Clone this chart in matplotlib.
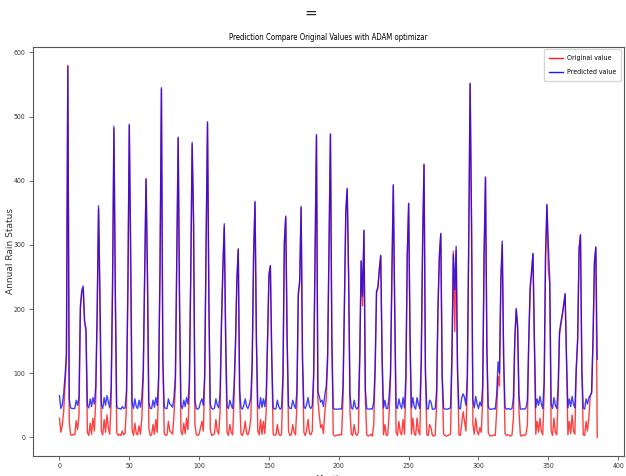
import numpy as np
import matplotlib
matplotlib.use("Agg")
import matplotlib.pyplot as plt
from matplotlib.font_manager import FontProperties

# ---------------- Data (monthly rainfall, actual vs model output) ----------------
original_rows = [
    [30, 8, 18, 40, 80, 125, 580],
    [25, 4, 3, 5, 4, 26, 12, 35, 200, 225, 232],
    [180, 165, 8, 3, 22, 5, 30, 10, 60, 190, 356],
    [197, 10, 4, 28, 8, 35, 15, 5, 55, 230, 481],
    [220, 8, 3, 5, 3, 10, 4, 6, 50, 230, 486],
    [245, 12, 3, 22, 6, 4, 18, 5, 30, 90, 250, 403],
    [250, 15, 3, 4, 20, 5, 28, 8, 80, 260, 543],
    [120, 6, 3, 4, 25, 10, 8, 5, 35, 80, 270, 466],
    [200, 10, 4, 22, 6, 30, 12, 70, 250, 456],
    [335, 20, 4, 3, 5, 15, 25, 10, 90, 300, 490],
    [205, 12, 3, 4, 6, 28, 10, 5, 40, 175, 260, 328],
    [150, 8, 3, 20, 8, 4, 60, 140, 240, 293],
    [60, 5, 3, 10, 25, 6, 4, 12, 30, 110, 280, 366],
    [150, 10, 4, 28, 5, 25, 6, 40, 150, 250, 267],
    [120, 5, 3, 4, 20, 6, 3, 5, 80, 300, 343],
    [150, 10, 3, 4, 20, 8, 4, 50, 220, 240, 358],
    [120, 8, 3, 12, 28, 6, 4, 10, 90, 280, 470],
    [60, 35, 15, 20, 6, 40, 60, 120, 300, 472],
    [150, 5, 2, 3, 4, 3, 5, 4, 60, 200, 350, 387],
    [250, 40, 5, 3, 20, 6, 3, 8, 120, 275, 205, 322],
    [60, 4, 2, 3, 5, 2, 20, 100, 225, 232, 260, 283],
    [120, 4, 20, 3, 4, 35, 90, 250, 392],
    [200, 8, 3, 25, 8, 4, 28, 5, 80, 280, 364],
    [150, 5, 30, 6, 3, 30, 10, 4, 110, 300, 425],
    [100, 4, 3, 20, 15, 3, 2, 4, 50, 200, 280, 317],
    [90, 5, 3, 2, 3, 4, 5, 120, 290, 165, 292],
    [100, 4, 3, 22, 40, 25, 10, 80, 300, 551],
    [330, 20, 5, 30, 10, 4, 15, 8, 60, 280, 405],
    [140, 8, 3, 2, 3, 4, 3, 40, 95, 80, 250, 300],
    [120, 6, 3, 4, 3, 2, 4, 30, 150, 198],
    [170, 40, 3, 2, 4, 3, 5, 20, 150, 230, 255, 286],
    [150, 5, 25, 8, 30, 10, 4, 70, 280, 362],
    [260, 240, 10, 3, 30, 8, 4, 60, 160, 175, 190, 205, 223],
    [120, 4, 25, 6, 35, 10, 5, 105, 150, 290, 315],
    [100, 4, 3, 25, 10, 30, 65, 70, 150, 270, 296, 0],
]

predicted_rows = [
    [65, 45, 50, 68, 95, 130, 578],
    [60, 46, 45, 45, 45, 58, 50, 62, 205, 230, 236],
    [181, 170, 50, 46, 60, 48, 62, 52, 80, 195, 361],
    [228, 52, 45, 62, 50, 65, 56, 46, 75, 235, 485],
    [228, 48, 45, 45, 44, 48, 45, 46, 72, 235, 488],
    [298, 55, 45, 60, 48, 45, 58, 47, 62, 105, 255, 403],
    [255, 55, 45, 45, 58, 47, 62, 50, 95, 265, 545],
    [125, 48, 45, 45, 60, 52, 50, 47, 62, 95, 275, 468],
    [205, 50, 45, 58, 48, 62, 52, 88, 255, 460],
    [340, 58, 45, 44, 46, 55, 60, 50, 100, 305, 492],
    [209, 52, 45, 44, 46, 60, 50, 46, 68, 178, 265, 333],
    [155, 48, 45, 58, 50, 45, 80, 145, 245, 294],
    [75, 46, 44, 50, 60, 48, 45, 52, 62, 120, 285, 368],
    [155, 50, 45, 62, 47, 60, 48, 66, 155, 255, 268],
    [125, 46, 44, 45, 58, 48, 44, 46, 95, 305, 345],
    [155, 50, 45, 45, 58, 50, 45, 72, 225, 245, 360],
    [125, 48, 45, 52, 62, 48, 45, 50, 100, 285, 472],
    [72, 64, 55, 58, 48, 66, 80, 130, 305, 473],
    [155, 46, 44, 44, 44, 44, 45, 44, 78, 205, 352, 388],
    [255, 66, 46, 44, 58, 47, 44, 48, 130, 275, 220, 323],
    [75, 45, 44, 44, 45, 44, 56, 110, 228, 235, 262, 284],
    [125, 46, 58, 45, 45, 64, 100, 255, 394],
    [205, 48, 45, 60, 50, 45, 62, 46, 95, 285, 365],
    [155, 46, 62, 48, 44, 62, 52, 45, 120, 305, 426],
    [105, 45, 44, 58, 55, 44, 44, 45, 72, 205, 285, 318],
    [98, 46, 44, 44, 44, 45, 46, 130, 285, 230, 298],
    [105, 46, 44, 62, 68, 62, 50, 95, 305, 552],
    [340, 58, 46, 64, 52, 45, 55, 49, 80, 285, 406],
    [137, 48, 44, 44, 44, 45, 44, 66, 118, 100, 240, 306],
    [125, 47, 44, 45, 44, 44, 45, 62, 155, 201],
    [175, 65, 44, 44, 45, 44, 46, 58, 155, 235, 260, 287],
    [155, 46, 60, 50, 64, 52, 45, 88, 285, 363],
    [300, 247, 52, 45, 62, 50, 45, 78, 165, 180, 192, 208, 224],
    [125, 46, 60, 48, 64, 52, 46, 110, 155, 295, 316],
    [105, 46, 44, 60, 52, 62, 65, 70, 155, 275, 297, 122],
]

original = np.concatenate([np.array(r, dtype=float) for r in original_rows])
predicted = np.concatenate([np.array(r, dtype=float) for r in predicted_rows])

# ---------------- Plot ----------------
def narrow(size):
    return FontProperties(family="DejaVu Sans", stretch="condensed", size=size)

fig = plt.figure(figsize=(6.26, 4.76), dpi=100)
ax = fig.add_axes([0.052, 0.042, 0.945, 0.86])

ax.plot(original, color="red", lw=1.0, alpha=0.75, label="Original value")
ax.plot(predicted, color="blue", lw=1.0, alpha=0.75, label="Predicted value")

ax.set_title("Prediction Compare Original Values with ADAM optimizar",
             fontproperties=narrow(5.6), pad=5)
ax.set_ylabel("Annual Rain Status", fontsize=6.5, color="#333333")
ax.yaxis.set_label_coords(-0.029, 0.5)
ax.set_xlabel("Month", fontsize=6, color="#333333", labelpad=4)

ax.set_xticks(np.arange(0, 401, 50))
ax.set_yticks(np.arange(0, 601, 100))
for lab in ax.get_xticklabels() + ax.get_yticklabels():
    lab.set_fontproperties(narrow(5))
    lab.set_color("#333333")
ax.tick_params(length=3, width=0.6, color="#555555", pad=2)
for s in ax.spines.values():
    s.set_color("#555555")
    s.set_linewidth(0.8)

leg = ax.legend(loc="upper right", prop=narrow(5),
                handlelength=2.0, borderpad=0.8, labelspacing=1.2,
                handletextpad=0.5, borderaxespad=0.4)
for line in leg.get_lines():
    line.set_alpha(0.9)

# stray mark that sits above the figure title
fig.text(0.497, 0.972, "=", ha="center", va="center", fontsize=11, color="#222222")

fig.savefig("out.png", dpi=100)
